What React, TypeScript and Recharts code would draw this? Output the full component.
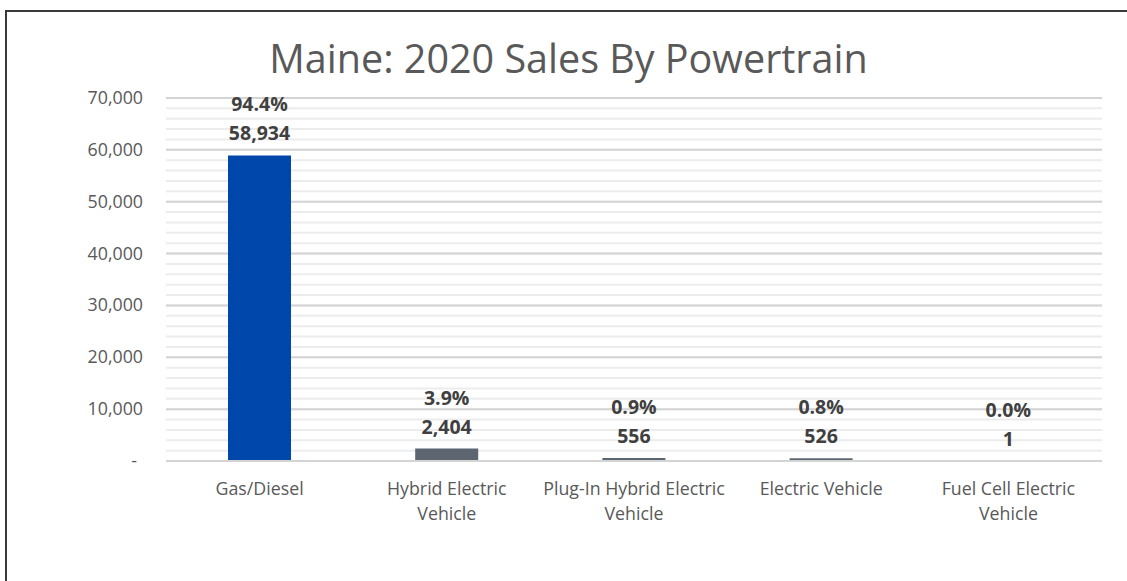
import { Bar, BarChart, CartesianGrid, Cell, LabelList, XAxis, YAxis } from "recharts";

const categories = [
  "Gas/Diesel",
  "Hybrid Electric Vehicle",
  "Plug-In Hybrid Electric Vehicle",
  "Electric Vehicle",
  "Fuel Cell Electric Vehicle",
];
const sales = [58934, 2404, 556, 526, 1];
const shares = ["94.4%", "3.9%", "0.9%", "0.8%", "0.0%"];
const barColors = ["#0047ab", "#5b6670", "#5b6670", "#5b6670", "#5b6670"];
const yMax = 70000;
const yTicks = [0, 10000, 20000, 30000, 40000, 50000, 60000, 70000];
const minorTicks = Array.from({ length: 36 }, (_, i) => i * 2000);

const data = categories.map((name, i) => ({ name, sales: sales[i], share: shares[i] }));

const FONT = "'Open Sans', 'Noto Sans', sans-serif";

function XTick(props: any) {
  const { x, y, payload } = props;
  const words = String(payload.value).split(" ");
  const lines = words.length >= 3 ? [words.slice(0, -1).join(" "), words[words.length - 1]] : [words.join(" ")];
  return (
    <g>
      {lines.map((line, i) => (
        <text
          key={i}
          x={x}
          y={y + 26 + i * 25}
          textAnchor="middle"
          fill="#595959"
          fontSize={17.8}
          fontFamily={FONT}
        >
          {line}
        </text>
      ))}
    </g>
  );
}

function YTick(props: any) {
  const { x, y, payload } = props;
  const label = payload.value === 0 ? "-" : payload.value.toLocaleString("en-US");
  return (
    <text
      x={payload.value === 0 ? x - 6 : x}
      y={y + 6}
      textAnchor="end"
      fill="#595959"
      fontSize={17.8}
      fontFamily={FONT}
    >
      {label}
    </text>
  );
}

function TwoLineLabel(props: any) {
  const { x, y, width, index } = props;
  const cx = x + width / 2;
  return (
    <g>
      <text x={cx} y={y - 44} textAnchor="middle" fill="#404040" fontSize={19.5} fontWeight="bold" fontFamily={FONT}>
        {shares[index]}
      </text>
      <text x={cx} y={y - 15} textAnchor="middle" fill="#404040" fontSize={19.5} fontWeight="bold" fontFamily={FONT}>
        {sales[index].toLocaleString("en-US")}
      </text>
    </g>
  );
}

// minor gridlines every 2,000, placed inside the plot area the grid gets
function minorLines(args: any) {
  const off = args?.offset ?? {};
  const top = off.top ?? 98;
  const h = off.height ?? 363;
  return minorTicks.map((v) => top + h * (1 - v / yMax));
}

export default function App() {
  return (
    <div style={{ position: "absolute", left: 0, top: 0, width: 1127, height: 581, background: "#fff" }}>
      <div
        style={{
          position: "absolute",
          left: 5,
          top: 10,
          right: 0,
          bottom: 0,
          borderTop: "2px solid #3a3a3a",
          borderLeft: "2px solid #3a3a3a",
        }}
      />
      <div
        style={{
          position: "absolute",
          left: 0,
          top: 31,
          width: 1137,
          textAlign: "center",
          fontFamily: FONT,
          fontSize: 39.5,
          color: "#595959",
        }}
      >
        Maine: 2020 Sales By Powertrain
      </div>
      <div style={{ position: "absolute", left: 0, top: 0 }}>
        <BarChart
          width={1127}
          height={581}
          data={data}
          margin={{ top: 98, right: 25, bottom: 90, left: 0 }}
          barCategoryGap={62}
        >
          <CartesianGrid vertical={false} horizontalCoordinatesGenerator={minorLines} stroke="#ececec" strokeWidth={2} />
          <CartesianGrid vertical={false} stroke="#d4d4d4" strokeWidth={2} />
          <XAxis
            dataKey="name"
            height={30}
            axisLine={{ stroke: "#d4d4d4", strokeWidth: 2 }}
            tickLine={false}
            tick={<XTick />}
            interval={0}
          />
          <YAxis
            domain={[0, yMax]}
            ticks={yTicks}
            width={166}
            axisLine={false}
            tickLine={false}
            tick={<YTick />}
            tickMargin={17}
            interval={0}
          />
          <Bar dataKey="sales" isAnimationActive={false}>
            {data.map((d, i) => (
              <Cell key={d.name} fill={barColors[i]} />
            ))}
            <LabelList dataKey="sales" content={<TwoLineLabel />} />
          </Bar>
        </BarChart>
      </div>
    </div>
  );
}
